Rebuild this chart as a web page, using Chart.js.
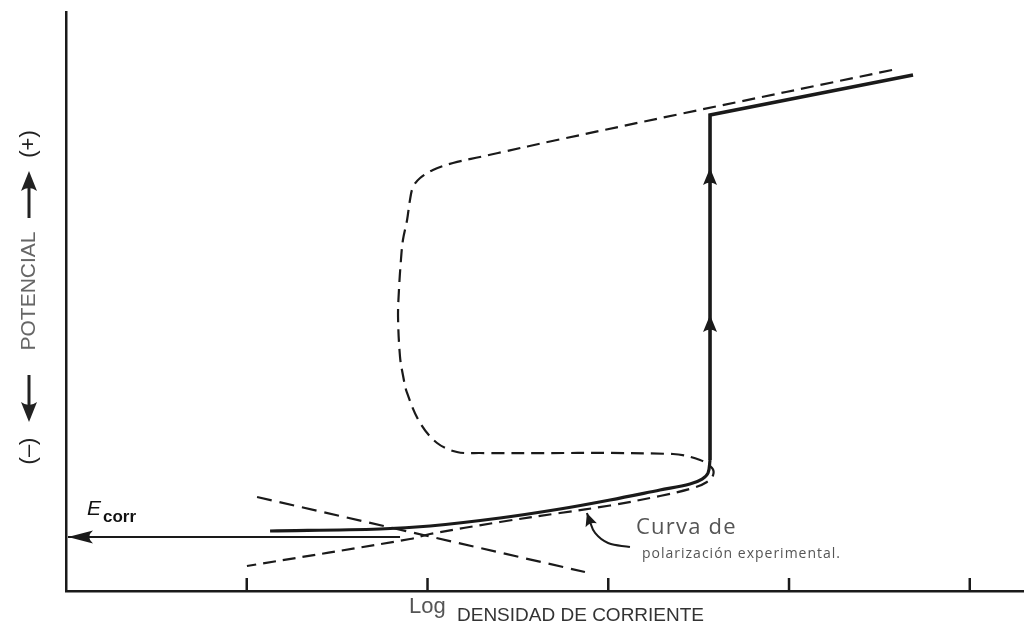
<!DOCTYPE html>
<html><head><meta charset="utf-8">
<script src="https://cdn.jsdelivr.net/npm/chart.js@4.4.1/dist/chart.umd.min.js"></script>
<style>html,body{margin:0;padding:0;background:#fff;}#wrap{width:1024px;height:625px;position:relative;}</style>
</head><body><div id="wrap"><canvas id="c"></canvas></div>
<script>
// x: log current density (tick units), y: potential (arbitrary units)
const tickValues = [1, 2, 3, 4, 5];

// experimental polarization curve, lower (active) branch
const expLowerX = [1.129, 1.737, 2.014, 2.401, 2.733, 3.010, 3.286, 3.452, 3.519, 3.552, 3.563];
const expLowerY = [1.036, 1.071, 1.123, 1.261, 1.416, 1.572, 1.744, 1.848, 1.934, 2.038, 2.263];
// experimental curve, vertical jump and transpassive line
const expUpperX = [3.563, 3.563, 4.686];
const expUpperY = [2.263, 8.221, 8.912];

// dashed (theoretical) curve
const dashX = [4.570, 3.397, 2.716, 2.390, 2.290, 2.141, 2.030, 1.959, 1.920, 1.903, 1.887, 1.864, 1.853, 1.842, 1.837, 1.848, 1.864, 1.887, 1.959, 2.053, 2.163, 2.290, 3.358, 3.508, 3.574, 3.580, 3.546, 3.469, 3.286, 3.010, 2.733, 2.401, 2.014, 1.903, 1.001];
const dashY = [8.998, 8.238, 7.789, 7.565, 7.496, 7.392, 7.271, 7.133, 6.978, 6.753, 6.408, 6.062, 5.717, 5.199, 4.732, 4.041, 3.731, 3.420, 2.902, 2.556, 2.401, 2.383, 2.366, 2.263, 2.124, 2.003, 1.883, 1.779, 1.641, 1.477, 1.347, 1.192, 0.984, 0.898, 0.432];

// cathodic Tafel line
const tafelX = [1.057, 2.871];
const tafelY = [1.623, 0.328];

// Ecorr arrow
const ecorrX = [1.848, 0.011];
const ecorrY = [0.933, 0.933];

// annotation pointer
const pointerX = [3.120, 2.999, 2.927, 2.894, 2.882];
const pointerY = [0.760, 0.829, 1.002, 1.240, 1.347];

// arrowheads on vertical branch (y of tips)
const upArrowY = [7.306, 4.767];

const pts = (xs, ys) => xs.map((x, i) => ({x, y: ys[i]}));
const INK = '#1a1a1a';

function head(ctx, tx, ty, fx, fy, len, hw, color) {
  const a = Math.atan2(ty - fy, tx - fx);
  ctx.save();
  ctx.translate(tx, ty);
  ctx.rotate(a);
  ctx.beginPath();
  ctx.moveTo(0, 0);
  ctx.lineTo(-len, -hw);
  ctx.quadraticCurveTo(-len * 0.7, 0, -len, hw);
  ctx.closePath();
  ctx.fillStyle = color || INK;
  ctx.fill();
  ctx.restore();
}

const deco = {
  id: 'deco',
  afterDatasetsDraw(chart) {
    const {ctx, chartArea: ca, scales: {x, y}} = chart;
    ctx.save();
    // inward tick marks
    ctx.strokeStyle = INK; ctx.lineWidth = 2.5;
    tickValues.forEach(v => {
      const px = x.getPixelForValue(v);
      ctx.beginPath(); ctx.moveTo(px, ca.bottom); ctx.lineTo(px, ca.bottom - 13); ctx.stroke();
    });
    // arrowheads
    const ex = x.getPixelForValue(ecorrX[1]), ey = y.getPixelForValue(ecorrY[1]);
    head(ctx, ex, ey, ex + 10, ey, 25, 6.5);
    const vx = x.getPixelForValue(expUpperX[0]);
    upArrowY.forEach(v => {
      const py = y.getPixelForValue(v);
      head(ctx, vx, py, vx, py + 10, 17, 7);
    });
    const n = pointerX.length;
    head(ctx, x.getPixelForValue(pointerX[n-1]), y.getPixelForValue(pointerY[n-1]),
         x.getPixelForValue(pointerX[n-2]), y.getPixelForValue(pointerY[n-2]), 13, 6);

    // Ecorr label
    ctx.fillStyle = '#111';
    ctx.textBaseline = 'alphabetic'; ctx.textAlign = 'left';
    ctx.font = 'italic 21px "Liberation Sans", Arial, sans-serif';
    ctx.fillText('E', 87, 515);
    ctx.font = 'bold 17px "Liberation Sans", Arial, sans-serif';
    ctx.fillText('corr', 103, 522);

    // annotation
    ctx.fillStyle = '#555';
    ctx.letterSpacing = '1.2px';
    ctx.font = '22px "Open Sans", "Liberation Sans", Arial, sans-serif';
    ctx.fillText('Curva de', 636, 534);
    ctx.letterSpacing = '1px';
    ctx.font = '14px "Open Sans", "Liberation Sans", Arial, sans-serif';
    ctx.fillText('polarización experimental.', 642, 558);
    ctx.letterSpacing = '0px';

    // x axis title
    ctx.fillStyle = '#555';
    ctx.font = '22px "Liberation Sans", Arial, sans-serif';
    ctx.fillText('Log', 409, 613);
    ctx.fillStyle = '#333';
    ctx.font = '19px "Liberation Sans", Arial, sans-serif';
    ctx.fillText('DENSIDAD DE CORRIENTE', 457, 621);

    // y axis title (rotated)
    ctx.translate(29, 300);
    ctx.rotate(-Math.PI / 2);
    ctx.textAlign = 'center'; ctx.textBaseline = 'middle';
    ctx.fillStyle = '#222';
    ctx.font = '22px "Liberation Sans", Arial, sans-serif';
    ctx.fillText('(–)', -151, 0);
    ctx.fillText('(+)', 156, 0);
    ctx.fillStyle = '#666';
    ctx.font = '21px "Liberation Sans", Arial, sans-serif';
    ctx.fillText('POTENCIAL', 9, 0);
    ctx.strokeStyle = '#222'; ctx.lineWidth = 3;
    ctx.beginPath(); ctx.moveTo(-75, 0); ctx.lineTo(-105, 0); ctx.stroke();
    head(ctx, -122, 0, -100, 0, 20, 8, '#222');
    ctx.beginPath(); ctx.moveTo(82, 0); ctx.lineTo(112, 0); ctx.stroke();
    head(ctx, 129, 0, 100, 0, 20, 8, '#222');
    ctx.restore();
  }
};

const lineDs = (data, o) => Object.assign({
  data, showLine: true, pointRadius: 0, borderColor: INK, fill: false, tension: 0
}, o);

new Chart(document.getElementById('c'), {
  type: 'scatter',
  data: {
    datasets: [
      lineDs(pts(dashX, dashY), {borderWidth: 2.2, borderDash: [13, 7], tension: 0.35}),
      lineDs(pts(tafelX, tafelY), {borderWidth: 2.2, borderDash: [15, 8]}),
      lineDs(pts(expLowerX, expLowerY), {borderWidth: 3.2, tension: 0.35}),
      lineDs(pts(expUpperX, expUpperY), {borderWidth: 3.6}),
      lineDs(pts(ecorrX, ecorrY), {borderWidth: 1.8}),
      lineDs(pts(pointerX, pointerY), {borderWidth: 2, tension: 0.4})
    ]
  },
  options: {
    responsive: true, maintainAspectRatio: false, animation: false,
    layout: {padding: {left: 66, top: 12, right: 0, bottom: 34}},
    plugins: {legend: {display: false}, tooltip: {enabled: false}},
    scales: {
      x: {type: 'linear', min: 0, max: 5.30,
          ticks: {display: false}, grid: {display: false},
          border: {display: true, color: INK, width: 2.5},
          afterFit: s => { s.height = 0; }},
      y: {type: 'linear', min: 0, max: 10,
          ticks: {display: false}, grid: {display: false},
          border: {display: true, color: INK, width: 2.5},
          afterFit: s => { s.width = 0; }}
    }
  },
  plugins: [deco]
});
</script></body></html>
